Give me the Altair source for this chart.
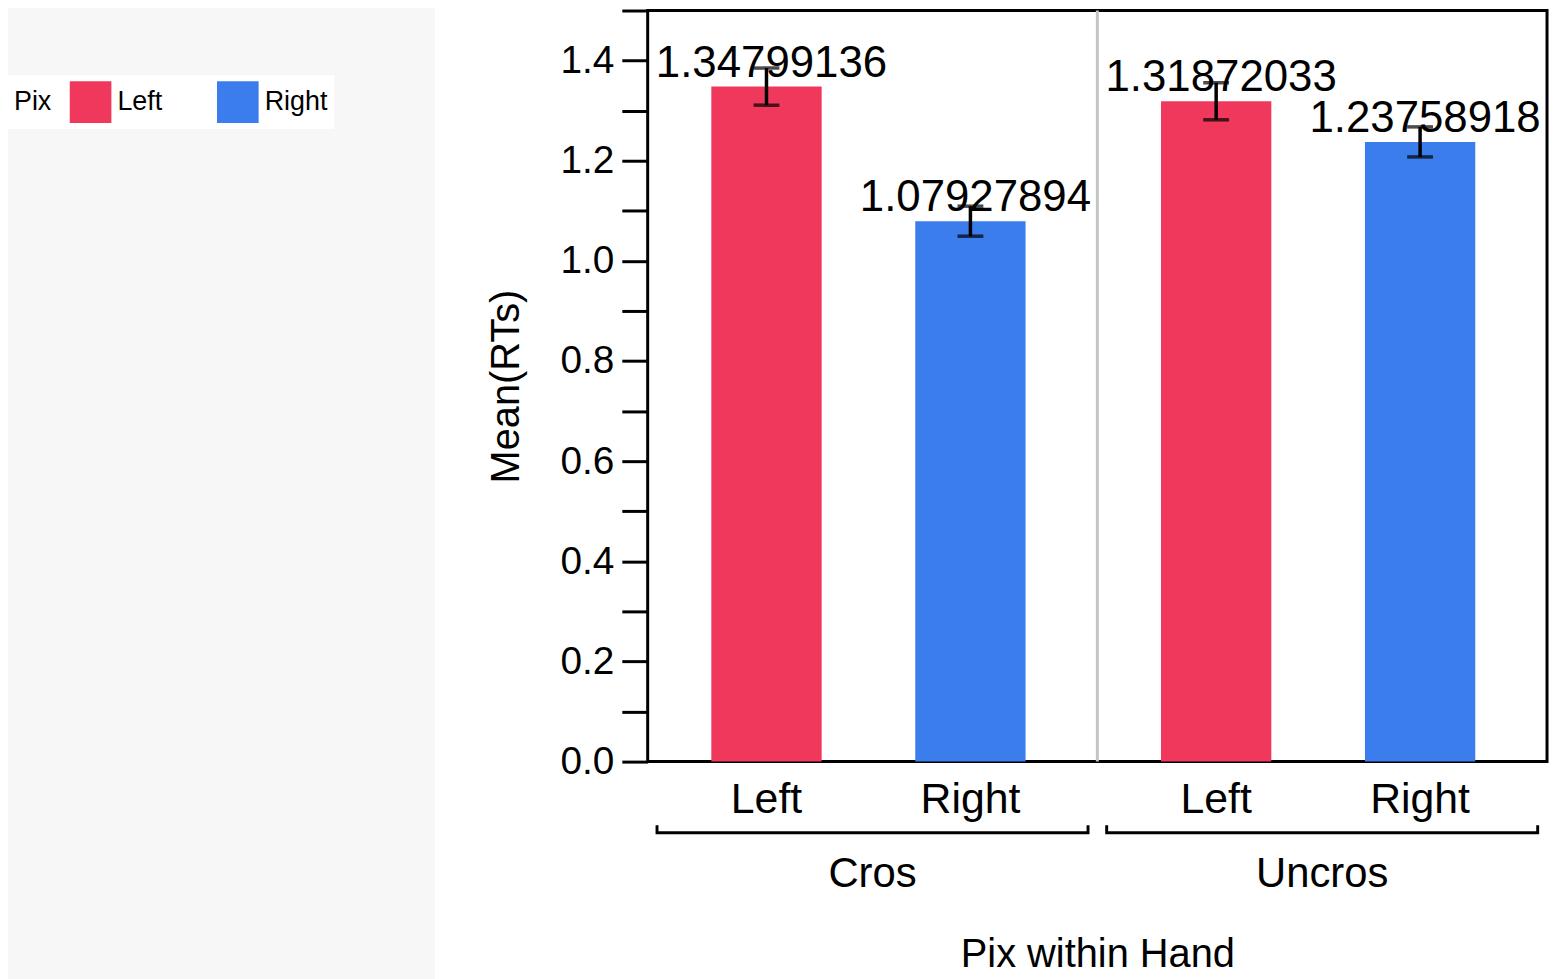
import altair as alt
import pandas as pd

hands = ["Cros", "Cros", "Uncros", "Uncros"]
pix = ["Left", "Right", "Left", "Right"]
means = [1.34799136, 1.07927894, 1.31872033, 1.23758918]
errs = [0.037, 0.030, 0.037, 0.030]
hand_order = ["Cros", "Uncros"]
pix_order = ["Left", "Right"]
pix_colors = ["#EF385C", "#3B7DED"]
y_ticks = [0.0, 0.1, 0.2, 0.3, 0.4, 0.5, 0.6, 0.7, 0.8, 0.9, 1.0, 1.1, 1.2, 1.3, 1.4, 1.5]

df = pd.DataFrame({"Hand": hands, "Pix": pix, "mean": means, "err": errs})
FONT = "Liberation Sans"
W, H = 904, 755

xscale = alt.Scale(domain=hand_order, paddingInner=0, paddingOuter=0)
oscale = alt.Scale(domain=pix_order, paddingInner=0.459, paddingOuter=0.332, align=0.47)

base = alt.Chart(df)

bg = alt.Chart(pd.DataFrame({"a": [0]})).mark_rect(color="#f7f7f7").encode(
    x=alt.value(-643), x2=alt.value(-214), y=alt.value(-8), y2=alt.value(1000)
)

bars = base.mark_bar().encode(
    x=alt.X("Hand:N", scale=xscale, sort=hand_order,
            axis=alt.Axis(title="Pix within Hand", labelAngle=0, ticks=False, domain=False,
                          labelAlign="center", labelBaseline="top",
                          labelFontSize=42, labelPadding=93, titleFontSize=40,
                          titlePadding=40, titleFontWeight="normal", labelColor="black",
                          titleColor="black", titleBaseline="top")),
    xOffset=alt.XOffset("Pix:N", scale=oscale, sort=pix_order),
    y=alt.Y("mean:Q", scale=alt.Scale(domain=[0, 1.5], nice=False),
            axis=alt.Axis(title="Mean(RTs)", values=y_ticks, tickSize=26, tickWidth=3,
                          tickColor="black", domain=False, grid=False, labelFontSize=39,
                          labelPadding=8, titleFontSize=40, titleFontWeight="normal",
                          titlePadding=34, labelColor="black", titleColor="black",
                          labelExpr="round(datum.value*10) % 2 == 0 ? format(datum.value, '.1f') : ''")),
    color=alt.Color("Pix:N", scale=alt.Scale(domain=pix_order, range=pix_colors),
                    legend=alt.Legend(orient="none", legendX=-643, legendY=65,
                                      direction="horizontal", titleOrient="left",
                                      title="Pix", titleFontSize=27, titleFontWeight="normal",
                                      labelFontSize=27, symbolType="square", symbolSize=1750,
                                      symbolStrokeWidth=0, columnPadding=54, labelOffset=6,
                                      titlePadding=18, fillColor="white", padding=6,
                                      labelColor="black", titleColor="black",
                                      titleBaseline="middle")),
)

eb = base.transform_calculate(lo="datum.mean - datum.err", hi="datum.mean + datum.err")
rules = eb.mark_rule(color="black", strokeWidth=3.5).encode(
    x=alt.X("Hand:N", scale=xscale, sort=hand_order),
    xOffset=alt.XOffset("Pix:N", scale=oscale, sort=pix_order),
    y="lo:Q", y2="hi:Q",
)
caps_lo = eb.mark_tick(color="black", thickness=3.5, size=26, orient="horizontal").encode(
    x=alt.X("Hand:N", scale=xscale, sort=hand_order),
    xOffset=alt.XOffset("Pix:N", scale=oscale, sort=pix_order),
    y="lo:Q",
)
caps_hi = eb.mark_tick(color="black", thickness=3.5, size=26, orient="horizontal").encode(
    x=alt.X("Hand:N", scale=xscale, sort=hand_order),
    xOffset=alt.XOffset("Pix:N", scale=oscale, sort=pix_order),
    y="hi:Q",
)

labels = base.mark_text(fontSize=44, baseline="bottom", dy=-1, dx=5, color="black").encode(
    x=alt.X("Hand:N", scale=xscale, sort=hand_order),
    xOffset=alt.XOffset("Pix:N", scale=oscale, sort=pix_order),
    y="mean:Q",
    text=alt.Text("mean:Q", format=".8f"),
)

pix_labels = base.mark_text(fontSize=43, baseline="middle", color="black").encode(
    x=alt.X("Hand:N", scale=xscale, sort=hand_order),
    xOffset=alt.XOffset("Pix:N", scale=oscale, sort=pix_order),
    y=alt.value(794),
    text="Pix:N",
)

hdf = pd.DataFrame({"Hand": hand_order})
br_black = alt.Chart(hdf).mark_bar(color="black", width=alt.RelativeBandSize(0.965)).encode(
    x=alt.X("Hand:N", scale=xscale, sort=hand_order),
    y=alt.value(819), y2=alt.value(828),
)
br_white = alt.Chart(hdf).mark_bar(color="white", width=alt.RelativeBandSize(0.952)).encode(
    x=alt.X("Hand:N", scale=xscale, sort=hand_order),
    y=alt.value(816), y2=alt.value(825),
)

divider = alt.Chart(pd.DataFrame({"Hand": ["Uncros"]})).mark_rule(color="#c4c4c4", strokeWidth=3).encode(
    x=alt.X("Hand:N", scale=xscale, sort=hand_order, bandPosition=0),
    y=alt.value(0), y2=alt.value(H),
)

chart = alt.layer(bg, divider, bars, rules, caps_lo, caps_hi, labels, pix_labels, br_black, br_white).properties(
    width=W, height=H,
    autosize=alt.AutoSizeParams(type="none"),
    padding={"left": 643, "top": 0, "right": 4, "bottom": 216},
).configure(font=FONT, background="white").configure_view(stroke="black", strokeWidth=3)

chart.save("out.html", embed_options={"renderer": "svg", "actions": False})
